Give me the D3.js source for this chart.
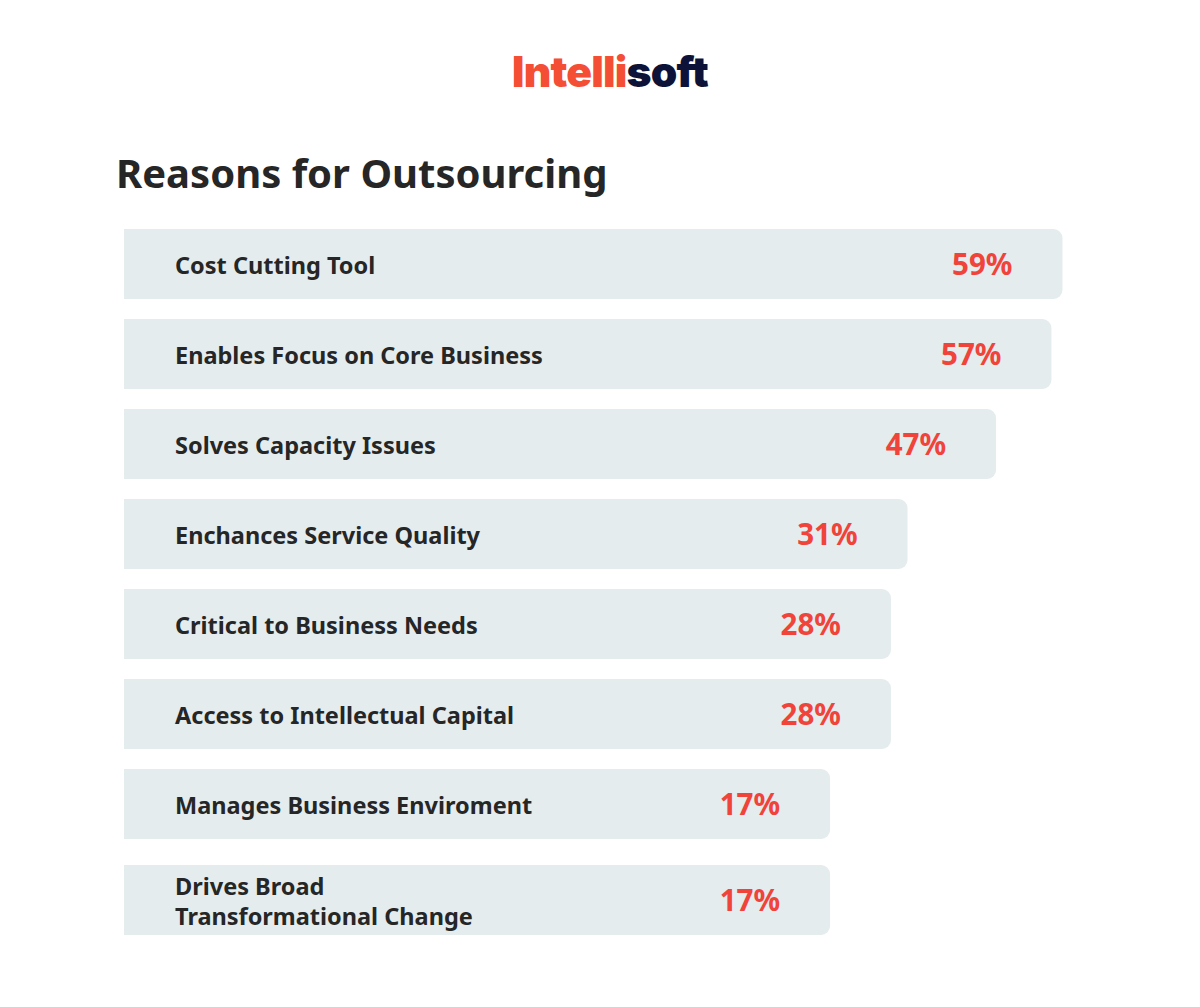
<!DOCTYPE html>
<html>
<head>
<meta charset="utf-8">
<script src="https://cdn.jsdelivr.net/npm/d3@7"></script>
<style>
  html, body { margin: 0; padding: 0; background: #fff; }
</style>
</head>
<body>
<div id="chart"></div>
<script>
// chart data
const reasons = [
  ["Cost Cutting Tool"],
  ["Enables Focus on Core Business"],
  ["Solves Capacity Issues"],
  ["Enchances Service Quality"],
  ["Critical to Business Needs"],
  ["Access to Intellectual Capital"],
  ["Manages Business Enviroment"],
  ["Drives Broad", "Transformational Change"]
];
const shares = [59, 57, 47, 31, 28, 28, 17, 17];
const chartTitle = "Reasons for Outsourcing";
const logoParts = ["Intelli", "soft"];

const width = 1200;
const height = 1007;
const font = "'Noto Sans', Lato, sans-serif";

const data = reasons.map((lines, i) => ({lines, key: lines.join(" "), value: shares[i]}));

const barLeft = 124;
const radius = 9;

// bar lengths grow with the share (bars start long, not at zero)
const x = d3.scaleLinear()
    .domain([0, 60])
    .range([612, 944]);

const y = d3.scaleBand()
    .domain(data.map(d => d.key))
    .range([229, 229 + 90 * data.length - 20])
    .paddingInner(20 / 90)
    .paddingOuter(0);

// extra gap above rows with wrapped labels
const rowY = d => y(d.key) + (d.lines.length > 1 ? 6 : 0);

const svg = d3.select("#chart").append("svg")
    .attr("width", width)
    .attr("height", height)
    .attr("viewBox", `0 0 ${width} ${height}`);

// logo
const logo = svg.append("text")
    .attr("x", 610)
    .attr("y", 87)
    .attr("text-anchor", "middle")
    .attr("font-family", "Inter, Roboto, sans-serif")
    .attr("font-weight", 900)
    .attr("font-size", 42.5)
    .attr("letter-spacing", -0.8);
logo.append("tspan").attr("fill", "#f44e34").text(logoParts[0]);
logo.append("tspan").attr("fill", "#0d1238").text(logoParts[1]);

// title
svg.append("text")
    .attr("x", 116)
    .attr("y", 188)
    .attr("font-family", font)
    .attr("font-weight", 700)
    .attr("font-size", 40)
    .attr("fill", "#262626")
    .text(chartTitle);

// bar with rounded right corners only
function barPath(x0, y0, w, h, r) {
  return `M${x0},${y0}H${x0 + w - r}A${r},${r} 0 0 1 ${x0 + w},${y0 + r}` +
         `V${y0 + h - r}A${r},${r} 0 0 1 ${x0 + w - r},${y0 + h}H${x0}Z`;
}

const rows = svg.append("g")
    .selectAll("g")
    .data(data)
    .join("g")
    .attr("transform", d => `translate(0,${rowY(d)})`);

rows.append("path")
    .attr("fill", "#e4ecee")
    .attr("d", d => barPath(barLeft, 0, x(d.value), y.bandwidth(), radius));

rows.append("text")
    .attr("font-family", font)
    .attr("font-weight", 700)
    .attr("font-size", 23.5)
    .attr("fill", "#262626")
    .each(function(d) {
      const t = d3.select(this);
      const lh = 29.5;
      const start = y.bandwidth() / 2 - (d.lines.length - 1) * lh / 2;
      d.lines.forEach((line, i) => {
        t.append("tspan")
          .attr("x", 175)
          .attr("y", start + i * lh)
          .attr("dy", "0.42em")
          .text(line);
      });
    });

rows.append("text")
    .attr("x", d => barLeft + x(d.value) - 50)
    .attr("y", y.bandwidth() / 2)
    .attr("dy", "0.38em")
    .attr("text-anchor", "end")
    .attr("font-family", font)
    .attr("font-weight", 700)
    .attr("font-size", 29.5)
    .attr("fill", "#f0433a")
    .text(d => d.value + "%");
</script>
</body>
</html>
